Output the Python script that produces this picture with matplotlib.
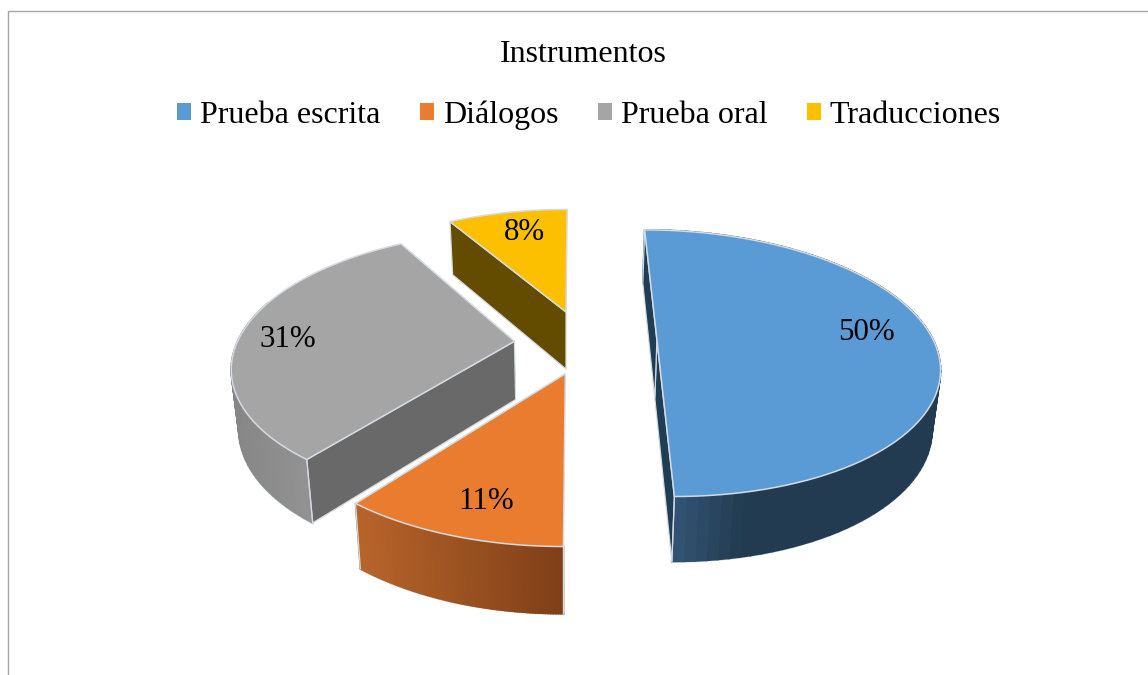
import numpy as np
import matplotlib
matplotlib.use('Agg')
import matplotlib.pyplot as plt
from matplotlib.patches import Patch
from matplotlib.lines import Line2D

plt.rcParams['font.family'] = ['Liberation Serif', 'DejaVu Serif']

TITLE = 'Instrumentos'
categories = ['Prueba escrita', 'Diálogos', 'Prueba oral', 'Traducciones']
values = [50.0, 10.6, 31.0, 8.4]

top_colors = ['#5b9bd5', '#ea7c30', '#a5a5a5', '#fdc000']
cut_colors = ['#203d56', '#84431a', '#696969', '#634c00']
wall_left = ['#3c6288', '#b8652a', '#868686', '#634c00']
wall_right = ['#223b50', '#7f3f18', '#a2a2a2', '#634c00']
wall_fade = [0.35, 1.0, 1.0, 1.0]
EDGE = '#d4dbe2'

# exploded position of each slice in the pie plane (radius = 1)
shift_u = [0.30, -0.03, -0.215, -0.03]
shift_v = [0.0, 0.25, 0.01, -0.225]
label_r = [0.76, 0.77, 0.83, 0.80]
label_du = [0.01, 0.02, 0.007, 0.03]
label_dv = [-0.06, 0.05, 0.04, 0.02]
# which cut faces can be seen: 0 = start of the arc, -1 = end of the arc
visible_cuts = [(-1, 0), (), (0,), (0,)]
draw_order = [3, 2, 0, 1]

# perspective camera, in pixels of the output image
HORIZON_Y = -403
VANISH_X = 574
PLANE_W = 743
PERSP = 0.174
SCALE_U = 0.372


def project(u, v):
    w = PLANE_W / (1 - PERSP * np.asarray(v))
    return VANISH_X + w * SCALE_U * np.asarray(u), HORIZON_Y + w


def drop(x, y):
    """Move a point of the top face down to the bottom face."""
    x, y = np.asarray(x), np.asarray(y)
    return x - (x - 565) * 0.023, y + 43.6 + 0.043 * y


def face(ax, x, y, color, edge=EDGE, lw=1.0, z=2):
    ax.fill(x, y, facecolor=color, edgecolor=edge, linewidth=lw, joinstyle='round', zorder=z)


def mix(c1, c2, t):
    a = np.array(matplotlib.colors.to_rgb(c1))
    b = np.array(matplotlib.colors.to_rgb(c2))
    return tuple(a + (b - a) * t)


fig = plt.figure(figsize=(11.48, 6.75), dpi=100)
ax = fig.add_axes([0, 0, 1, 1])
ax.set_xlim(0, 1148)
ax.set_ylim(675, 0)
ax.axis('off')

# chart frame
ax.add_line(Line2D([8, 8, 1148], [675, 10.5, 10.5], color='#a6a6a6', lw=1.0))

edges = np.concatenate([[0], np.cumsum(values)]) / np.sum(values) * 2 * np.pi

for i in draw_order:
    th = np.linspace(edges[i], edges[i + 1], 90)
    ax0, av0 = shift_u[i], shift_v[i]
    arc_x, arc_y = project(ax0 + np.sin(th), av0 - np.cos(th))
    apex_x, apex_y = project(ax0, av0)
    low_x, low_y = drop(arc_x, arc_y)
    low_ax, low_ay = drop(apex_x, apex_y)

    # outer wall, as thin strips for the gradient
    x_lo, x_hi = arc_x.min(), arc_x.max()
    front = np.cos(th) < 0.3
    ax.plot(low_x[front], low_y[front], color=EDGE, lw=2.0, zorder=2)
    for k in range(len(th) - 1):
        if not front[k] and i != 0:
            continue
        t = min((arc_x[k] - x_lo) / (x_hi - x_lo) / wall_fade[i], 1.0)
        col = mix(wall_left[i], wall_right[i], t)
        ax.fill([arc_x[k], arc_x[k + 1], low_x[k + 1], low_x[k]],
                [arc_y[k], arc_y[k + 1], low_y[k + 1], low_y[k]],
                facecolor=col, edgecolor=col, linewidth=1.2, zorder=2)

    # flat cut faces from the centre to the ends of the arc
    for j in visible_cuts[i]:
        face(ax, [apex_x, arc_x[j], low_x[j], low_ax], [apex_y, arc_y[j], low_y[j], low_ay],
             cut_colors[i], lw=0.9)

    # vertical edges at the front ends of the wall
    for j in (0, -1):
        if front[j]:
            ax.plot([arc_x[j], low_x[j]], [arc_y[j], low_y[j]], color=EDGE, lw=0.9, zorder=2)

    # top face
    face(ax, np.r_[apex_x, arc_x], np.r_[apex_y, arc_y], top_colors[i], lw=1.1, z=3)

    mid = (edges[i] + edges[i + 1]) / 2
    lx, ly = project(ax0 + label_r[i] * np.sin(mid) + label_du[i],
                     av0 - label_r[i] * np.cos(mid) + label_dv[i])
    ax.text(lx, ly, f'{round(values[i])}%', fontsize=22.3, ha='center', va='center',
            color='black', zorder=5)

ax.text(583, 54, TITLE, fontsize=23, ha='center', va='center', color='black')

handles = [Patch(facecolor=c, edgecolor='none') for c in top_colors]
ax.legend(handles, categories, loc='center', bbox_to_anchor=(589 / 1148, 1 - 115 / 675), ncol=4,
          frameon=False, fontsize=23, handlelength=0.44, handleheight=0.44, handletextpad=0.28,
          columnspacing=1.23, labelcolor='black')

fig.savefig('out.png', dpi=100)
